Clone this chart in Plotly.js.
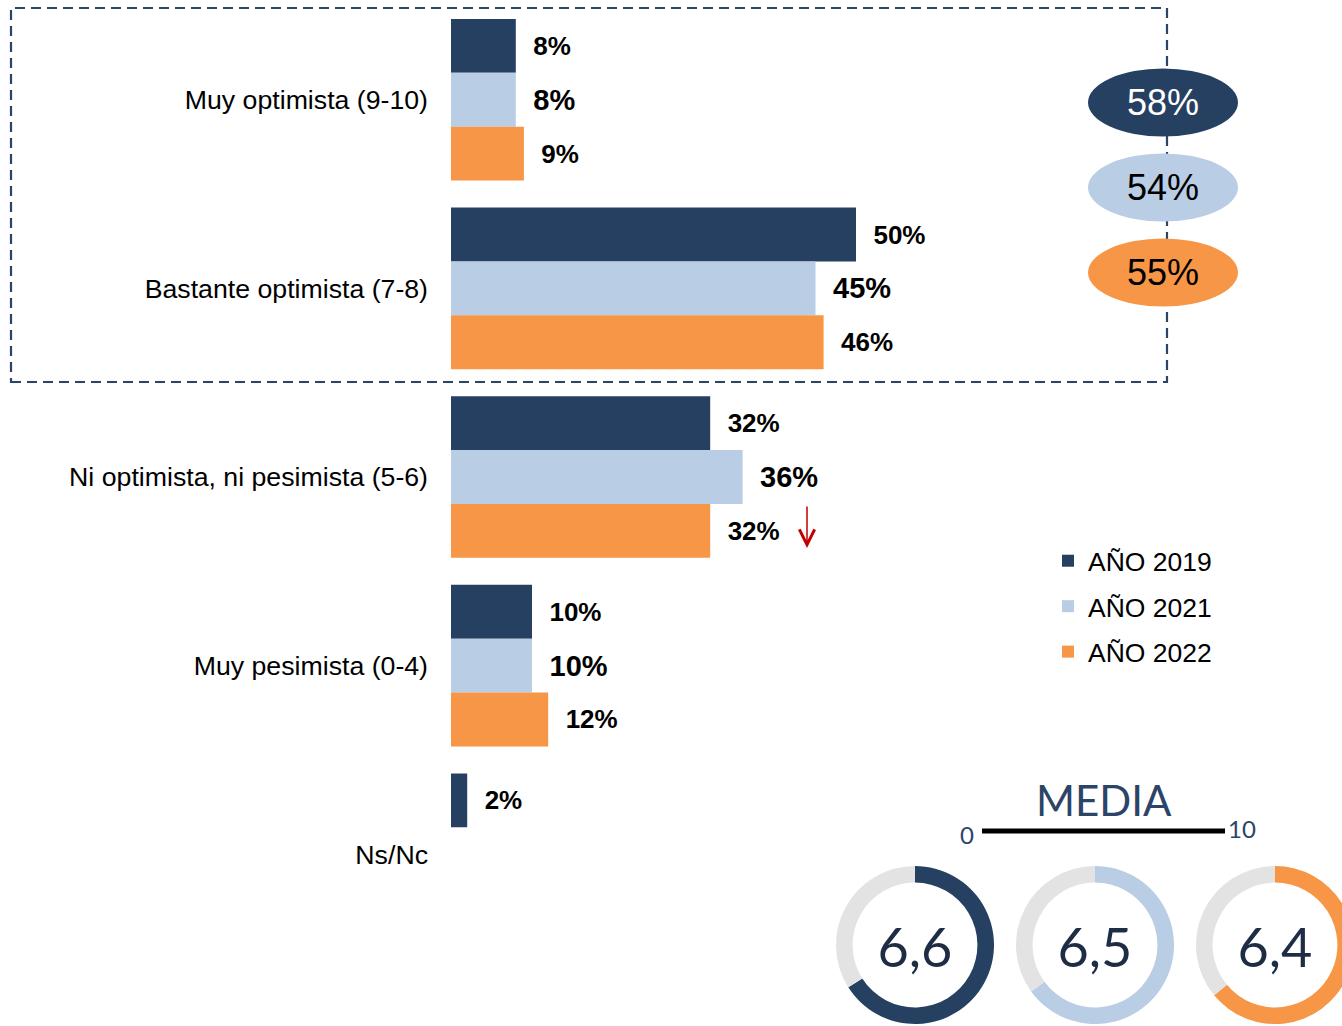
<!DOCTYPE html>
<html><head><meta charset="utf-8">
<script src="https://cdn.plot.ly/plotly-3.0.1.min.js"></script>
<style>html,body{margin:0;padding:0;overflow:hidden;background:#fff}#chart{width:1360px;height:1026px}</style>
</head><body><div id="chart"></div>
<script>
const categories = ['Muy optimista (9-10)', 'Bastante optimista (7-8)', 'Ni optimista, ni pesimista (5-6)', 'Muy pesimista (0-4)', 'Ns/Nc'];
const years = ['AÑO 2019', 'AÑO 2021', 'AÑO 2022'];
const values2019 = [8, 50, 32, 10, 2];
const values2021 = [8, 45, 36, 10, null];
const values2022 = [9, 46, 32, 12, null];
const optimistTotals = [58, 54, 55];
const meanScores = [6.6, 6.5, 6.4];
const meanScaleMax = 10;
const scaleTicks = ['0', '10'];
const mediaTitle = 'MEDIA';

const colors = ['#264061', '#B9CDE5', '#F79646'];
const W = 1360, H = 1026;
const px = x => x / W;
const py = y => 1 - y / H;
const SANS = 'Liberation Sans, Arial, sans-serif';
const GEO = 'Lato, sans-serif';

const series = [values2019, values2021, values2022];
const labelSizes = [26, 29, 26];
const labelPad = ['\u00a0\u00a0', '\u2002', '\u00a0\u00a0'];
const traces = series.map((v, i) => ({
  type: 'bar', orientation: 'h', y: categories, x: v, name: years[i],
  marker: {color: colors[i]},
  texttemplate: labelPad[i] + '%{x}%', textposition: 'outside', constraintext: 'none', cliponaxis: false,
  textfont: {family: SANS, size: labelSizes[i], color: '#000', weight: 'bold'},
  legendgroup: 'g' + i, hoverinfo: 'skip'
}));

const donutCx = [915, 1095, 1275];
meanScores.forEach((m, i) => {
  const cx = donutCx[i];
  traces.push({
    type: 'pie', values: [m, meanScaleMax - m], marker: {colors: [colors[i], '#E3E3E3']},
    hole: 0.79, sort: false, direction: 'clockwise', rotation: 0, textinfo: 'none',
    hoverinfo: 'skip', showlegend: false,
    domain: {x: [px(cx - 79), px(cx + 79)], y: [py(1024), py(866)]},
    title: {text: String(m).replace('.', ','), position: 'middle center',
      font: {family: GEO, size: 54, color: '#1F2D44', weight: 400}}
  });
});

const shapes = [
  {type: 'rect', xref: 'paper', yref: 'paper', x0: px(11), x1: px(1167), y0: py(382), y1: py(8),
   line: {color: '#2C4566', width: 2.2, dash: '10px,6px'}},
  {type: 'line', xref: 'paper', yref: 'paper', x0: px(982), x1: px(1225), y0: py(831), y1: py(831),
   line: {color: '#000', width: 5}}
];
const ellCy = [102.5, 187.5, 272.5];
const annotations = [];
const ann = (x, y, text, font) => ({xref: 'paper', yref: 'paper', x: px(x), y: py(y), text: text,
  showarrow: false, xanchor: 'center', yanchor: 'middle', font: font});
optimistTotals.forEach((t, i) => {
  shapes.push({type: 'circle', xref: 'paper', yref: 'paper', x0: px(1088), x1: px(1238),
    y0: py(ellCy[i] + 34), y1: py(ellCy[i] - 34), fillcolor: colors[i], line: {width: 0}});
  annotations.push(ann(1163, ellCy[i], t + '%', {family: SANS, size: 36, color: i === 0 ? '#fff' : '#000'}));
});
annotations.push(ann(1104, 800, mediaTitle, {family: GEO, size: 42, color: '#2B4468', weight: 400}));
annotations.push(ann(967, 834, scaleTicks[0], {family: GEO, size: 24, color: '#2B4468', weight: 400}));
annotations.push(ann(1242, 828, scaleTicks[1], {family: GEO, size: 24, color: '#2B4468', weight: 400}));
annotations.push({xref: 'paper', yref: 'paper', x: px(807), y: py(548), ax: 0, ay: -43, text: '',
  showarrow: true, arrowhead: 5, arrowsize: 2, arrowwidth: 1.5, arrowcolor: '#C00000'});

const layout = {
  width: W, height: H, margin: {l: 0, r: 0, t: 0, b: 0},
  paper_bgcolor: '#fff', plot_bgcolor: '#fff',
  barmode: 'group', bargap: 0.143, bargroupgap: 0,
  xaxis: {domain: [px(451), px(1261)], range: [0, 100], visible: false, fixedrange: true},
  yaxis: {domain: [py(948.5), py(5.5)], type: 'category', autorange: 'reversed', ticks: '',
    showline: false, showgrid: false, zeroline: false, ticklabelstandoff: 22,
    tickfont: {family: SANS, size: 26.7, color: '#000'}, fixedrange: true},
  showlegend: true,
  legend: {x: px(1048), y: py(537), xanchor: 'left', yanchor: 'top', traceorder: 'grouped',
    tracegroupgap: 8, font: {family: SANS, size: 26.5, color: '#000'}, bgcolor: 'rgba(0,0,0,0)'},
  shapes: shapes, annotations: annotations
};
Plotly.newPlot('chart', traces, layout, {displayModeBar: false, staticPlot: true});
</script></body></html>
